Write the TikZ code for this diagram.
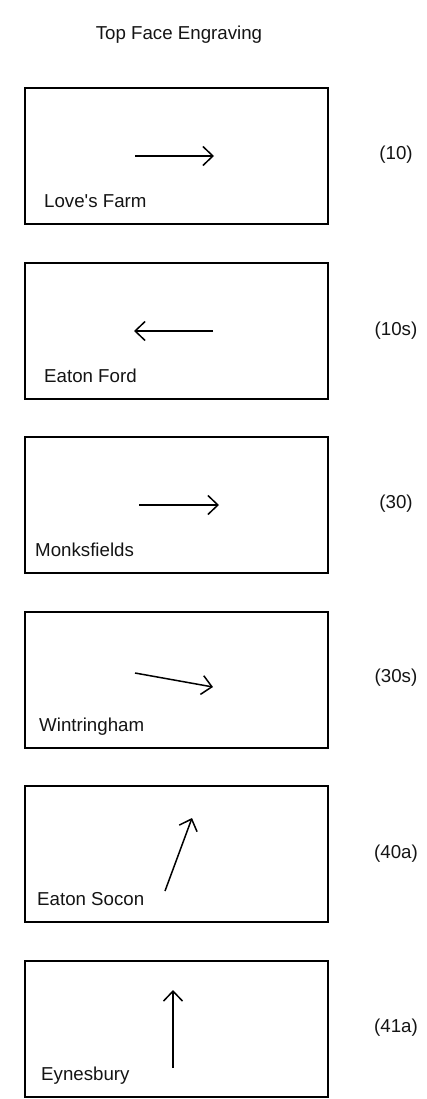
\documentclass[tikz,border=0pt]{standalone}
\usepackage{fontspec}
\setmainfont{Liberation Sans}
\usepackage{tikz}
\usetikzlibrary{arrows.meta}
\definecolor{figline}{RGB}{0,0,0}
\definecolor{figtext}{RGB}{20,20,20}
\tikzset{
  frm/.style  ={draw=figline, line width=2pt, minimum width=303pt, minimum height=136pt, inner sep=0pt},
  lab/.style  ={font=\fontsize{18.7}{22}\selectfont, text=figtext, inner sep=0pt, anchor=base west},
  code/.style ={font=\fontsize{18.7}{22}\selectfont, text=figtext, inner sep=0pt, anchor=base},
  ptr/.style  ={draw=figline, line width=1.5pt, -{Straight Barb[length=10pt,width=19pt,line width=1.5pt]}},
}

\begin{document}
\begin{tikzpicture}[x=1pt,y=-1pt]
  \useasboundingbox (0,0) rectangle (427,1099);
  \node[code] (title) at (179,39.5) {Top Face Engraving};
  % row 1
  \begin{scope}[yshift=-88pt]
  \node[frm] (bx1) at (176.5,68) {};
  \coordinate (t1) at (135,68);
  \coordinate (h1) at (214,68);
  \draw[ptr] (t1) -- (h1);
  \node[lab] (nm1) at (44,119.5) {Love\textquotesingle s Farm};
  \node[code] (cd1) at (396,72) {(10)};
  \end{scope}
  % row 2
  \begin{scope}[yshift=-263pt]
  \node[frm] (bx2) at (176.5,68) {};
  \coordinate (t2) at (213,68);
  \coordinate (h2) at (134,68);
  \draw[ptr] (t2) -- (h2);
  \node[lab] (nm2) at (44,119.5) {Eaton Ford};
  \node[code] (cd2) at (396,72) {(10s)};
  \end{scope}
  % row 3
  \begin{scope}[yshift=-437pt]
  \node[frm] (bx3) at (176.5,68) {};
  \coordinate (t3) at (139,68);
  \coordinate (h3) at (219,68);
  \draw[ptr] (t3) -- (h3);
  \node[lab] (nm3) at (35,119.5) {Monksfields};
  \node[code] (cd3) at (396,71) {(30)};
  \end{scope}
  % row 4
  \begin{scope}[yshift=-612pt]
  \node[frm] (bx4) at (176.5,68) {};
  \coordinate (t4) at (135,61);
  \coordinate (h4) at (213,75);
  \draw[ptr] (t4) -- (h4);
  \node[lab] (nm4) at (39,119.5) {Wintringham};
  \node[code] (cd4) at (396,70) {(30s)};
  \end{scope}
  % row 5
  \begin{scope}[yshift=-786pt]
  \node[frm] (bx5) at (176.5,68) {};
  \coordinate (t5) at (165,105);
  \coordinate (h5) at (192,32);
  \draw[ptr] (t5) -- (h5);
  \node[lab] (nm5) at (37,119) {Eaton Socon};
  \node[code] (cd5) at (396,72) {(40a)};
  \end{scope}
  % row 6
  \begin{scope}[yshift=-961pt]
  \node[frm] (bx6) at (176.5,68) {};
  \coordinate (t6) at (173,107);
  \coordinate (h6) at (173,29);
  \draw[ptr] (t6) -- (h6);
  \node[lab] (nm6) at (41,119) {Eynesbury};
  \node[code] (cd6) at (396,71) {(41a)};
  \end{scope}
\end{tikzpicture}
\end{document}
